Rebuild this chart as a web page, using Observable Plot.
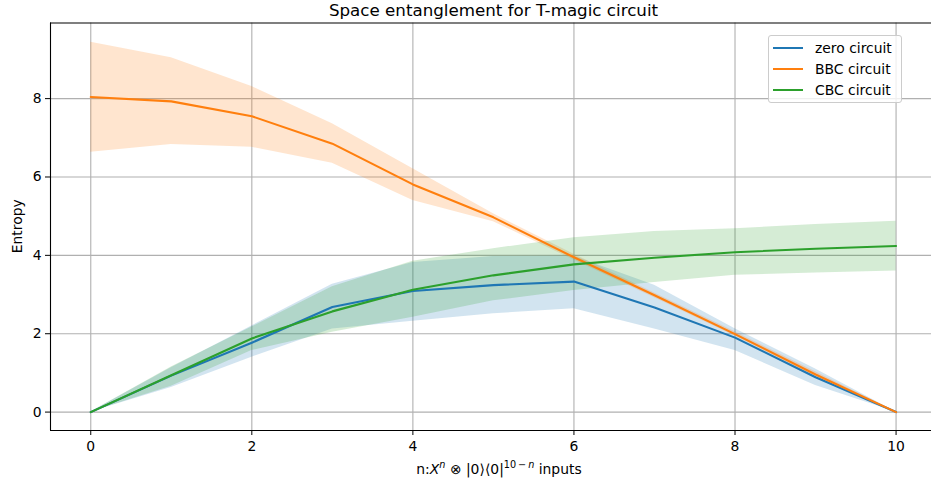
<!DOCTYPE html>
<html>
<head>
<meta charset="utf-8">
<script src="https://cdn.jsdelivr.net/npm/d3@7"></script>
<script src="https://cdn.jsdelivr.net/npm/@observablehq/plot@0.6"></script>
<style>
  html, body { margin: 0; padding: 0; background: #fff; }
  #wrap { position: relative; width: 932px; height: 485px; font-family: "DejaVu Sans", sans-serif; }
  #legend { position: absolute; left: 768px; top: 35px; width: 134px; height: 68px;
    border: 1px solid #cccccc; border-radius: 3px; background: rgba(255,255,255,0.8);
    font-size: 13.9px; color: #000; box-sizing: border-box; }
  .item { position: absolute; left: 0; height: 20px; display: flex; align-items: center; }
  .swatch { width: 30px; height: 2.1px; margin-left: 4px; margin-right: 12px; }
</style>
</head>
<body>
<div id="wrap"></div>
<script>
// ---- data ----
const nInputs = [0, 1, 2, 3, 4, 5, 6, 7, 8, 9, 10];
const seriesNames = ["zero circuit", "BBC circuit", "CBC circuit"];
const seriesColors = ["#1f77b4", "#ff7f0e", "#2ca02c"];

const zeroMean = [0, 0.93, 1.77, 2.68, 3.09, 3.24, 3.33, 2.67, 1.90, 0.89, 0];
const zeroLow  = [0, 0.63, 1.40, 2.12, 2.32, 2.51, 2.64, 2.12, 1.57, 0.68, 0];
const zeroHigh = [0, 1.13, 2.20, 3.26, 3.82, 3.97, 3.98, 3.24, 2.13, 1.10, 0];

const bbcMean = [8.04, 7.93, 7.55, 6.85, 5.81, 4.97, 3.95, 2.98, 1.99, 0.96, 0];
const bbcLow  = [6.63, 6.83, 6.76, 6.35, 5.40, 4.86, 3.88, 2.92, 1.94, 0.90, 0];
const bbcHigh = [9.44, 9.04, 8.31, 7.36, 6.21, 5.06, 4.03, 3.04, 2.05, 1.03, 0];

const cbcMean = [0, 0.94, 1.88, 2.57, 3.12, 3.49, 3.77, 3.94, 4.08, 4.17, 4.24];
const cbcLow  = [0, 0.66, 1.57, 2.04, 2.42, 2.84, 3.10, 3.31, 3.49, 3.55, 3.60];
const cbcHigh = [0, 1.15, 2.17, 3.20, 3.85, 4.17, 4.45, 4.61, 4.68, 4.79, 4.87];

const xTicks = [0, 2, 4, 6, 8, 10];
const yTicks = [0, 2, 4, 6, 8];
const xDomain = [-0.5, 10.44];
const yDomain = [-0.47, 9.93];

const titleText = "Space entanglement for T-magic circuit";
const yLabelText = "Entropy";

// ---- build tables ----
const means = [zeroMean, bbcMean, cbcMean];
const lows = [zeroLow, bbcLow, cbcLow];
const highs = [zeroHigh, bbcHigh, cbcHigh];
const tables = seriesNames.map((name, s) =>
  nInputs.map((n, i) => ({series: name, n, value: means[s][i], lo: lows[s][i], hi: highs[s][i]})));

const font = "DejaVu Sans, sans-serif";
const marks = [
  Plot.gridX(xTicks, {stroke: "#b0b0b0", strokeOpacity: 1, strokeWidth: 1.1}),
  Plot.gridY(yTicks, {stroke: "#b0b0b0", strokeOpacity: 1, strokeWidth: 1.1})
];
tables.forEach((t, s) => {
  marks.push(Plot.areaY(t, {x: "n", y1: "lo", y2: "hi", fill: seriesColors[s], fillOpacity: 0.2}));
});
tables.forEach((t, s) => {
  marks.push(Plot.lineY(t, {x: "n", y: "value", stroke: seriesColors[s], strokeWidth: 2.1}));
});
marks.push(
  Plot.ruleY([yDomain[0], yDomain[1]], {stroke: "#000", strokeWidth: 1.1}),
  Plot.ruleX([xDomain[0]], {stroke: "#000", strokeWidth: 1.1}),
  Plot.axisX(xTicks, {tickSize: 5, tickPadding: 6, fontSize: 13.9, label: null, stroke: "#000", fill: "#000"}),
  Plot.axisY(yTicks, {tickSize: 5, tickPadding: 4, fontSize: 13.9, label: null, stroke: "#000", fill: "#000"}),
  Plot.text([titleText], {frameAnchor: "top", dy: -7.5, dx: 2.5, lineAnchor: "bottom", fontSize: 16.7, fill: "#000"})
);

const chart = Plot.plot({
  width: 932,
  height: 485,
  marginLeft: 50,
  marginRight: 1,
  marginTop: 22.5,
  marginBottom: 55,
  style: {fontFamily: font, background: "#fff", overflow: "visible"},
  x: {domain: xDomain},
  y: {domain: yDomain},
  marks
});

const wrap = document.getElementById("wrap");
wrap.appendChild(chart);

// axis labels
const svg = d3.select(chart);
const xs = chart.scale("x"), ys = chart.scale("y");
const xc = (xs.range[0] + 936) / 2 + 6;
const yc = (ys.range[0] + ys.range[1]) / 2;

svg.append("text")
  .attr("transform", `translate(17,${yc}) rotate(-90)`)
  .attr("text-anchor", "middle").attr("dy", "0.35em")
  .attr("font-size", 13.9).attr("fill", "#000").attr("font-family", font)
  .text(yLabelText);

const xl = svg.append("text")
  .attr("x", xc).attr("y", 474)
  .attr("text-anchor", "middle")
  .attr("font-size", 13.9).attr("fill", "#000").attr("font-family", font);
xl.append("tspan").text("n:");
xl.append("tspan").attr("font-style", "italic").text("X");
xl.append("tspan").attr("font-style", "italic").attr("font-size", 9.7).attr("dy", -6).text("n");
xl.append("tspan").attr("dy", 6).text(" \u2297 |0\u27E9\u27E80|");
xl.append("tspan").attr("font-size", 9.7).attr("dy", -6).text("10\u2009\u2212\u2009");
xl.append("tspan").attr("font-size", 9.7).attr("font-style", "italic").text("n");
xl.append("tspan").attr("dy", 6).text(" inputs");

// legend
const legend = document.createElement("div");
legend.id = "legend";
seriesNames.forEach((name, s) => {
  const item = document.createElement("div");
  item.className = "item";
  item.style.top = (2 + s * 21) + "px";
  const sw = document.createElement("div");
  sw.className = "swatch";
  sw.style.background = seriesColors[s];
  const label = document.createElement("span");
  label.textContent = name;
  item.appendChild(sw);
  item.appendChild(label);
  legend.appendChild(item);
});
wrap.appendChild(legend);
</script>
</body>
</html>
